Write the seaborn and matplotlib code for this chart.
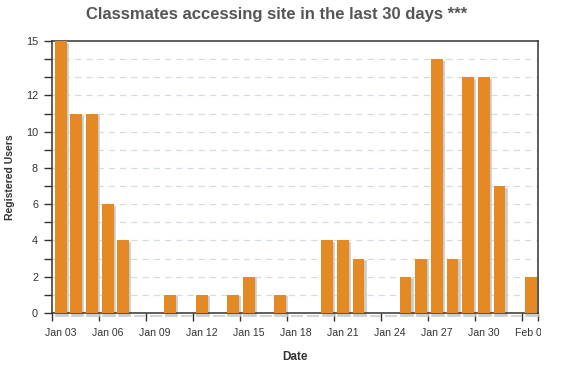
import matplotlib
matplotlib.use("Agg")
import matplotlib.pyplot as plt
from matplotlib.transforms import Bbox, TransformedBbox
import pandas as pd
import seaborn as sns

# daily counts, Jan 03 .. Feb 02
days = pd.date_range("2014-01-03", "2014-02-02", freq="D")
users = [15, 11, 11, 6, 4, 0, 0, 1, 0, 1, 0, 1, 2, 0, 1, 0,
         0, 4, 4, 3, 0, 0, 2, 3, 14, 3, 13, 13, 7, 0, 2]

ytick_values = list(range(16))
ytick_labels = ["0", "", "2", "", "4", "", "6", "", "8", "", "10", "", "12", "", "", "15"]
xtick_dates = pd.date_range("2014-01-03", "2014-02-03", freq="3D").append(pd.DatetimeIndex(["2014-02-03"]))
xlabel_dates = xtick_dates[:-1]
xtick_labels = [d.strftime("%b %d") for d in xlabel_dates]

title = "Classmates accessing site in the last 30 days ***"

sns.set_style("ticks")
plt.rcParams["font.family"] = ["Liberation Sans", "DejaVu Sans"]

df = pd.DataFrame({"date": days, "users": users})
df["day"] = (df["date"] - days[0]).dt.days + 0.55   # bars sit inside their day slot

fig = plt.figure(figsize=(5.71, 3.69), dpi=100)
ax = fig.add_axes([52 / 571, 1 - 313 / 369, 486 / 571, 272 / 369])

# drop shadow (a little right and below), then the orange bars
ax.bar(df["day"] + 0.08, df["users"], width=0.75, bottom=-0.14, color="#cccccc",
       edgecolor="#cccccc", linewidth=1.2, clip_on=False, zorder=2)
sns.barplot(data=df, x="day", y="users", native_scale=True,
            color="#e48923", saturation=1, width=0.75, linewidth=0,
            ax=ax, zorder=3)

ax.set_xlim(0, 31)
ax.set_ylim(0, 15)
# tick marks on day boundaries, labels centred on the day
ax.set_xticks([(d - days[0]).days for d in xtick_dates])
ax.set_xticklabels([])
ax.set_xticks([(d - days[0]).days + 0.55 for d in xlabel_dates], minor=True)
ax.set_xticklabels(xtick_labels, minor=True, fontsize=7.6, color="#333333")
ax.tick_params(axis="x", which="minor", length=0, pad=11)
ax.set_yticks(ytick_values)
ax.set_yticklabels(ytick_labels, fontsize=7.8, color="#333333")
ax.tick_params(axis="both", which="major", length=6, width=1, color="#333333", pad=4, direction="out")

# last label runs off the chart area and is cut there
clip = TransformedBbox(Bbox([[0, 0], [541 / 571, 1]]), fig.transFigure)
last = ax.get_xticklabels(minor=True)[-1]
last.set_clip_box(clip)
last.set_clip_on(True)

for v in ytick_values[1:-1]:
    ax.axhline(v, color="#d3dbe3", lw=0.9, ls=(0, (5, 4)), zorder=1)

for s in ax.spines.values():
    s.set_color("#333333")
    s.set_linewidth(1.1)
    s.set_visible(True)

ax.set_xlabel("Date", fontsize=8.5, fontweight="bold", color="#333333", labelpad=9)
ax.set_ylabel("Registered Users", fontsize=7.5, fontweight="bold", color="#333333", labelpad=8)

fig.text(277 / 571, 1 - 15 / 369, title, ha="center", va="center",
         fontsize=12, fontweight="bold", color="#555555")

fig.savefig("out.png", dpi=100)
